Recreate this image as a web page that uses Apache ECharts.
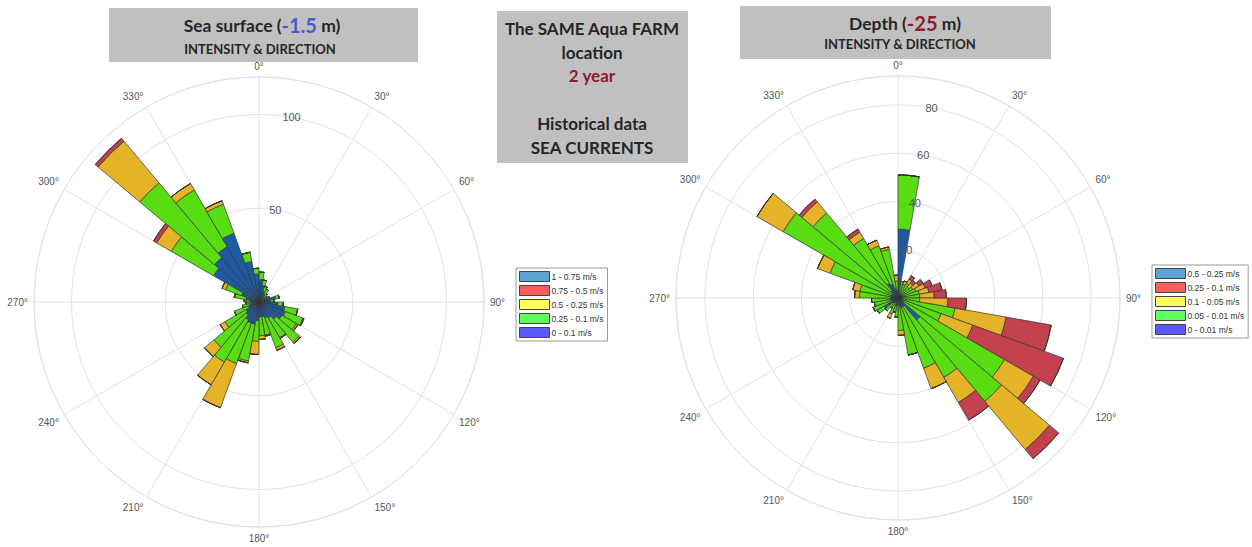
<!DOCTYPE html>
<html>
<head>
<meta charset="utf-8">
<title>Sea currents - intensity & direction</title>
<script src="https://cdn.jsdelivr.net/npm/echarts@6/dist/echarts.min.js"></script>
<style>
html, body { margin: 0; padding: 0; background: #fff; }
#main { width: 1252px; height: 547px; }
</style>
</head>
<body>
<div id="main"></div>
<script>
// sector centres, degrees clockwise from north (10° bins)
var bins = [5, 15, 25, 35, 45, 55, 65, 75, 85, 95, 105, 115, 125, 135, 145, 155, 165, 175,
	185, 195, 205, 215, 225, 235, 245, 255, 265, 275, 285, 295, 305, 315, 325, 335, 345, 355];

// sea surface (-1.5 m), counts per speed class, inner class first
var surfaceNames = ['0 - 0.1 m/s', '0.25 - 0.1 m/s', '0.5 - 0.25 m/s', '0.75 - 0.5 m/s', '1 - 0.75 m/s'];
var surfaceC1 = [12, 9, 6, 5, 4, 4, 5, 9, 6, 10, 14, 15, 14, 12, 10, 9, 8, 8, 10, 12, 12, 11, 9, 8, 6, 5, 4, 5, 7, 10, 28, 31, 34, 39, 22, 15];
var surfaceC2 = [4, 3, 3, 3, 2, 1, 1, 2, 2, 3, 7, 10, 9, 16, 12, 17, 10, 10, 11, 20, 23, 26, 22.5, 13, 8, 4, 3, 2, 6, 9, 26, 52, 35, 16.5, 5, 3];
var surfaceC3 = [0, 0, 0, 0, 0, 0, 0, 0, 0, 0, 0, 0.5, 1, 1, 0.5, 1.5, 0.5, 2, 7, 1, 25, 14, 6.5, 3, 0, 0, 0, 1, 0.5, 2, 9, 29, 4, 2, 0, 0];
var surfaceC4 = [0, 0, 0, 0, 0, 0, 0, 0, 0, 0, 0, 0, 0, 0, 0, 0, 0, 0, 0, 0, 0, 0, 0, 0, 0, 0, 0, 0, 0, 0, 2, 2, 0, 0, 0, 0];
var surfaceC5 = [0, 0, 0, 0, 0, 0, 0, 0, 0, 0, 0, 0, 0, 0, 0, 0, 0, 0, 0, 0, 0, 0, 0, 0, 0, 0, 0, 0, 0, 0, 0, 0, 0, 0, 0, 0];
var surfaceTicks = [50, 100];

// depth (-25 m)
var depthNames = ['0 - 0.01 m/s', '0.05 - 0.01 m/s', '0.1 - 0.05 m/s', '0.25 - 0.1 m/s', '0.5 - 0.25 m/s'];
var depthC1 = [28.5, 2, 2, 2, 2, 2, 2, 2, 2, 2, 2, 2, 3, 12, 4, 4, 4, 3, 3, 3, 2, 2, 3, 6.6, 3, 3, 3, 3, 3, 3, 3, 4, 7, 6, 4, 3];
var depthC2 = [22.5, 4, 4, 5, 4, 5, 6, 7, 7, 7, 22, 17, 48, 44, 34, 27, 20, 10.5, 5, 3, 5, 3, 4, 3.4, 8, 7, 8, 13, 13, 27, 52, 42, 21.5, 17, 16.5, 4];
var depthC3 = [0, 1, 1.5, 2, 2, 3, 4, 4, 6, 11.7, 21.5, 14, 13.8, 26, 12, 9, 0, 2, 0, 0, 2, 0, 0, 0, 0, 0, 0, 2, 3, 5.5, 12.5, 6, 3, 2.5, 1, 2.5];
var depthC4 = [0, 0, 0, 1.7, 1.5, 2, 3, 5.5, 5, 7.7, 19, 40, 3.2, 5, 8.5, 0, 0, 0, 0, 0, 0, 0, 0, 0, 0, 0, 0, 0, 0, 0, 0, 1.5, 1.5, 0, 0, 0];
var depthC5 = [0, 0, 0, 0, 0, 0, 0, 0, 0, 0, 0, 0, 0, 0, 0, 0, 0, 0, 0, 0, 0, 0, 0, 0, 0, 0, 0, 0, 0, 0, 0, 0, 0, 0, 0, 0];
var depthTicks = [20, 40, 60, 80];

var barColors = ['#1f5ba3', '#58dc12', '#e5b327', '#c3404f', '#5fa3d3'];
var legendColors = ['#5a5aff', '#5eff5e', '#ffff5e', '#ff5e5e', '#5fa3d3']; // matlab legend does not match the bars
var gridColor = '#e2e2e2';
var labelFont = 'Liberation Sans';

var myChart = echarts.init(document.getElementById('main'), null, { renderer: 'svg' });

// one rose = 3 polars on the same spot: grid, bars, tilted radius labels
function rosePolars(center, radius) {
	return [
		{ center: center, radius: radius },
		{ center: center, radius: radius },
		{ center: center, radius: radius }
	];
}

function roseAngleAxes(p) {
	return [
		{
			polarIndex: p, type: 'value', min: 0, max: 360, interval: 30,
			startAngle: 90, clockwise: true,
			axisLine: { lineStyle: { color: gridColor } },
			axisTick: { show: false },
			splitLine: { lineStyle: { color: gridColor, width: 1 } },
			axisLabel: {
				margin: 6, color: '#555', fontSize: 10, fontFamily: labelFont,
				formatter: function (v) { return v === 360 ? '' : v + '°'; }
			}
		},
		{ polarIndex: p + 1, type: 'category', data: bins, startAngle: 90, clockwise: true, show: false },
		{ polarIndex: p + 2, type: 'value', min: 0, max: 360, startAngle: 80, clockwise: true, show: false }
	];
}

function roseRadiusAxes(p, max, step, ticks) {
	return [
		{
			polarIndex: p, type: 'value', min: 0, max: max, interval: step,
			axisLine: { show: false }, axisTick: { show: false }, axisLabel: { show: false },
			splitLine: { lineStyle: { color: gridColor, width: 1 } }
		},
		{ polarIndex: p + 1, type: 'value', min: 0, max: max, show: false },
		{
			polarIndex: p + 2, type: 'value', min: 0, max: max, interval: step, z: 20,
			axisLine: { show: false }, axisTick: { show: false }, splitLine: { show: false },
			axisLabel: {
				margin: 0, align: 'center', verticalAlign: 'middle',
				color: '#555', fontSize: 11, fontFamily: labelFont,
				formatter: function (v) { return ticks.indexOf(v) >= 0 ? String(v) : ''; }
			}
		}
	];
}

function roseSeries(names, values, polarIndex, stack) {
	return names.map(function (name, i) {
		return {
			name: name,
			type: 'bar',
			coordinateSystem: 'polar',
			polarIndex: polarIndex,
			stack: stack,
			barCategoryGap: '0%',
			data: values[i],
			itemStyle: { color: barColors[i], borderColor: '#333', borderWidth: 0.7 }
		};
	});
}

function roseLegend(names, left, top) {
	var data = [];
	for (var i = names.length - 1; i >= 0; i--) {
		data.push({ name: names[i], itemStyle: { color: legendColors[i], borderColor: '#444', borderWidth: 1 } });
	}
	return {
		orient: 'vertical', left: left, top: top,
		data: data,
		icon: 'rect',
		itemWidth: 30, itemHeight: 10, itemGap: 3,
		padding: [3, 4, 3, 3],
		borderColor: '#999', borderWidth: 1, backgroundColor: '#fff',
		selectedMode: false,
		textStyle: { fontSize: 8.5, color: '#333', fontFamily: labelFont, padding: [0, 0, 0, -3] }
	};
}

var titleFont = 'Lato';
var dark = '#262626';

var option = {
	backgroundColor: '#fff',
	animation: false,
	polar: rosePolars([259, 302], 225).concat(rosePolars([898, 298], 222)),
	angleAxis: roseAngleAxes(0).concat(roseAngleAxes(3)),
	radiusAxis: roseRadiusAxes(0, 120, 50, surfaceTicks).concat(roseRadiusAxes(3, 92, 20, depthTicks)),
	legend: [roseLegend(surfaceNames, 516, 268), roseLegend(depthNames, 1152, 265)],
	series: roseSeries(surfaceNames, [surfaceC1, surfaceC2, surfaceC3, surfaceC4, surfaceC5], 1, 'surface')
		.concat(roseSeries(depthNames, [depthC1, depthC2, depthC3, depthC4, depthC5], 4, 'depth')),
	graphic: [
		// title boxes
		{ type: 'rect', shape: { x: 109, y: 8, width: 309, height: 54 }, style: { fill: '#c0c0c0' }, z: 100 },
		{ type: 'rect', shape: { x: 497, y: 11, width: 191, height: 152 }, style: { fill: '#c0c0c0' }, z: 100 },
		{ type: 'rect', shape: { x: 740, y: 6, width: 311, height: 53 }, style: { fill: '#c0c0c0' }, z: 100 },
		{
			type: 'text', x: 262, y: 25, z: 101,
			style: {
				text: '{a|Sea surface (}{b|-1.5}{a| m)}', align: 'center', verticalAlign: 'middle',
				rich: {
					a: { fontFamily: titleFont, fontWeight: 'bold', fontSize: 17.5, fill: dark },
					b: { fontFamily: titleFont, fontWeight: 'bold', fontSize: 20, fill: '#4b55d3' }
				}
			}
		},
		{
			type: 'text', x: 260, y: 49, z: 101,
			style: { text: 'INTENSITY & DIRECTION', align: 'center', verticalAlign: 'middle', fontFamily: titleFont, fontWeight: 'bold', fontSize: 13, fill: dark }
		},
		{
			type: 'text', x: 905, y: 23, z: 101,
			style: {
				text: '{a|Depth (}{b|-25}{a| m)}', align: 'center', verticalAlign: 'middle',
				rich: {
					a: { fontFamily: titleFont, fontWeight: 'bold', fontSize: 17.5, fill: dark },
					b: { fontFamily: titleFont, fontWeight: 'bold', fontSize: 20, fill: '#8e1a30' }
				}
			}
		},
		{
			type: 'text', x: 900, y: 44, z: 101,
			style: { text: 'INTENSITY & DIRECTION', align: 'center', verticalAlign: 'middle', fontFamily: titleFont, fontWeight: 'bold', fontSize: 13, fill: dark }
		},
		// centre note
		{ type: 'text', x: 592, y: 28, z: 101, style: { text: 'The SAME Aqua FARM', align: 'center', verticalAlign: 'middle', fontFamily: titleFont, fontWeight: 'bold', fontSize: 17, fill: dark } },
		{ type: 'text', x: 592, y: 52, z: 101, style: { text: 'location', align: 'center', verticalAlign: 'middle', fontFamily: titleFont, fontWeight: 'bold', fontSize: 17, fill: dark } },
		{ type: 'text', x: 592, y: 75, z: 101, style: { text: '2 year', align: 'center', verticalAlign: 'middle', fontFamily: titleFont, fontWeight: 'bold', fontSize: 17, fill: '#8e1a30' } },
		{ type: 'text', x: 592, y: 123, z: 101, style: { text: 'Historical data', align: 'center', verticalAlign: 'middle', fontFamily: titleFont, fontWeight: 'bold', fontSize: 17, fill: dark } },
		{ type: 'text', x: 592, y: 147, z: 101, style: { text: 'SEA CURRENTS', align: 'center', verticalAlign: 'middle', fontFamily: titleFont, fontWeight: 'bold', fontSize: 17, fill: dark } }
	]
};

myChart.setOption(option);
</script>
</body>
</html>
